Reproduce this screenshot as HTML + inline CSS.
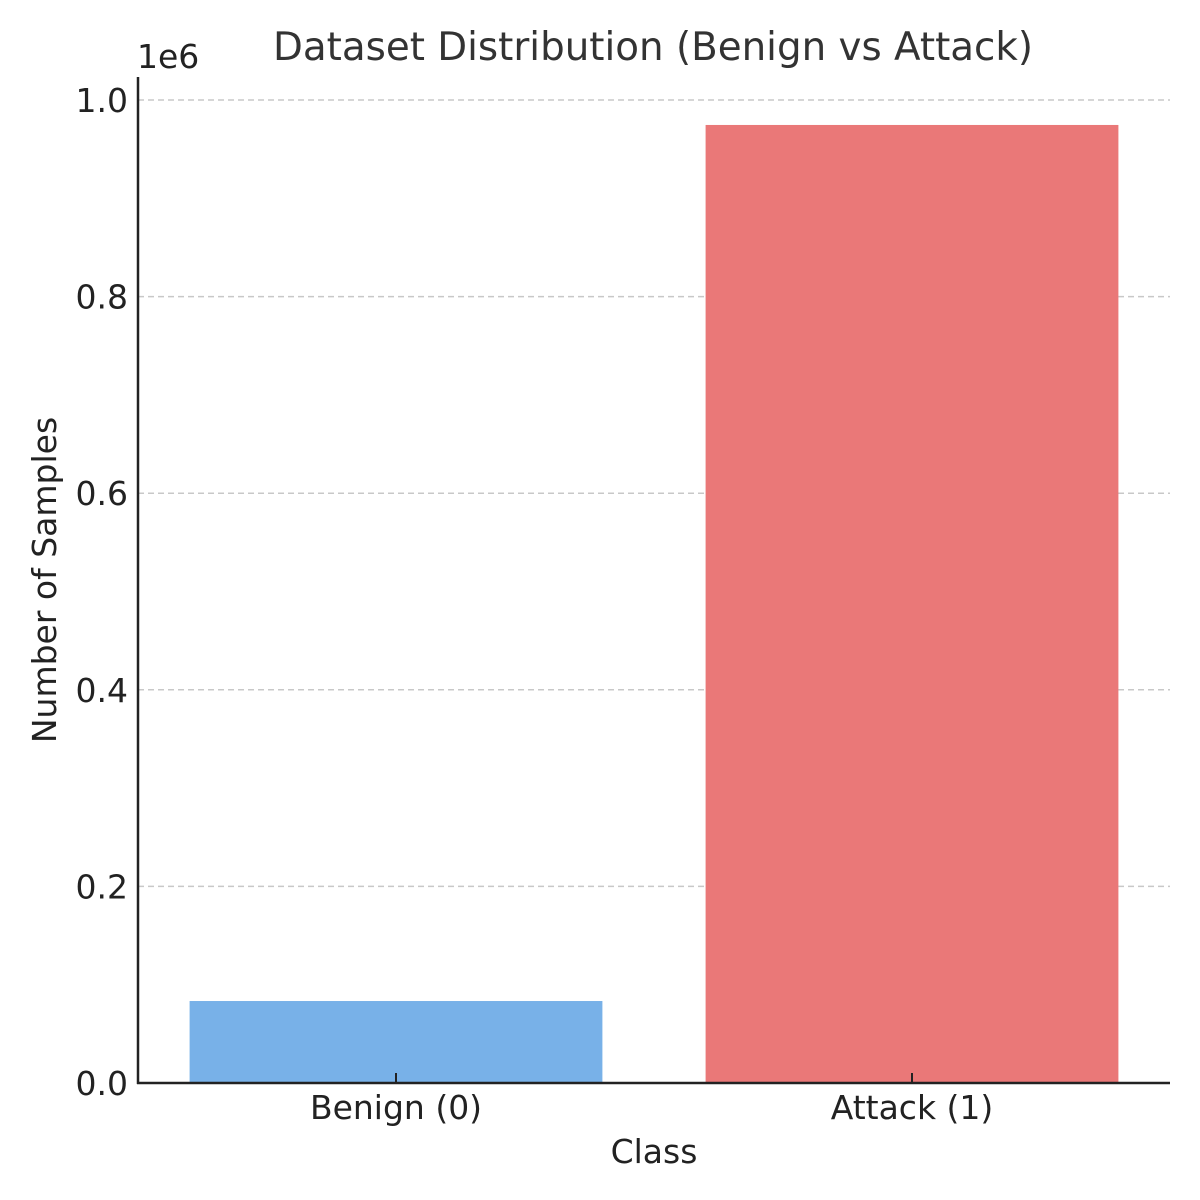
<!DOCTYPE html>
<html><head><meta charset="utf-8"><style>
html,body{margin:0;padding:0;background:#fff;overflow:hidden;width:1200px;height:1200px;}
svg{display:block;}
svg text{font-family:"DejaVu Sans","Liberation Sans",sans-serif;}
</style></head><body>
<svg id="chart" width="1200" height="1200" xmlns="http://www.w3.org/2000/svg">
<rect width="1200" height="1200" fill="#fff"/>
<g id="grid"></g><g id="bars"></g><g id="axes"></g>
<text x="653" y="60" text-anchor="middle" font-size="38.8" fill="#333">Dataset Distribution (Benign vs Attack)</text>
<text x="137" y="68" font-size="33" fill="#222">1e6</text>
<text x="654" y="1163" text-anchor="middle" font-size="33" fill="#222">Class</text>
<text transform="translate(56,580) rotate(-90)" text-anchor="middle" font-size="33" fill="#222">Number of Samples</text>
</svg>
<script>
const categories = ["Benign (0)", "Attack (1)"];
const counts = [83400, 974600];
const barColors = ["#78b1e8", "#ea7878"];
const yTicks = [0, 0.2, 0.4, 0.6, 0.8, 1.0];
const yTickLabels = ["0.0", "0.2", "0.4", "0.6", "0.8", "1.0"];
const NS = "http://www.w3.org/2000/svg";
const L = 138, R = 1170, B = 1083, T = 77;
const yScale = v => B - v / 1e6 * 983;
const xScale = i => L + (i + 0.5) / 2 * (R - L);
const bandW = (R - L) / 2 * 0.8;
function mk(tag, attrs, parent){const e=document.createElementNS(NS,tag);for(const k in attrs)e.setAttribute(k,attrs[k]);parent.appendChild(e);return e;}
const grid=document.getElementById('grid'), bars=document.getElementById('bars'), axes=document.getElementById('axes');
yTicks.forEach((t,i)=>{
  const y=yScale(t*1e6);
  if(t>0){const g=mk('line',{x1:L,x2:R,y1:y,y2:y,stroke:'#c8c8c8','stroke-width':1.5,'stroke-dasharray':'6,4'},grid);
  
  }
  const tx=mk('text',{x:L-10,y:y+12,'text-anchor':'end','font-size':33,fill:'#222'},axes);
  tx.textContent=yTickLabels[i];
  
  
});
categories.forEach((c,i)=>{
  const cx=xScale(i), y=yScale(counts[i]);
  const r=mk('rect',{x:cx-bandW/2,y:y,width:bandW,height:B-y,fill:barColors[i]},bars);
  
  
  const tk=mk('line',{x1:cx,x2:cx,y1:B,y2:B-10,stroke:'#222','stroke-width':2},axes);
  
  
  const tx=mk('text',{x:cx,y:B+36,'text-anchor':'middle','font-size':33,fill:'#222'},axes);
  tx.textContent=c;
  
  
});
const ly=mk('line',{x1:L,x2:L,y1:T,y2:B+1,stroke:'#222','stroke-width':2.5},axes);


const lx=mk('line',{x1:L-1,x2:R,y1:B,y2:B,stroke:'#222','stroke-width':2.5},axes);


</script>
</body></html>
